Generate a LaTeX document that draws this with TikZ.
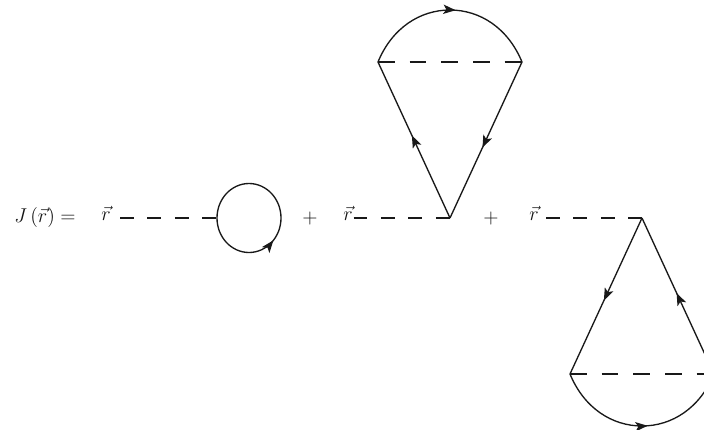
\documentclass[tikz,border=0pt]{standalone}
\usetikzlibrary{arrows.meta,decorations.markings}
\tikzset{
  x=0.6pt,y=-0.6pt,
  fermion/.style={draw=black!90,line width=0.8pt},
  scalarA/.style={draw=black!90,line width=0.8pt,dash pattern=on 8.3pt off 8.15pt},
  scalarB/.style={draw=black!90,line width=0.8pt,dash pattern=on 10pt off 9pt},
  tip/.style={>={Stealth[length=7.4pt,width=5.6pt,inset=1.8pt]},postaction={decorate,decoration={markings,mark=at position #1 with {\arrow{>}}}}},
  lab/.style={inner sep=0pt,text=black!92,font=\fontsize{12}{14}\selectfont}
}
\begin{document}
\begin{tikzpicture}
\useasboundingbox (0,0) rectangle (704,430);
\clip (0,0) rectangle (704,430);
% first term
\node[lab] (eq) at (45,217.5) {$J\left(\vec{r}\right)=$};
\node[lab] (r1) at (106,213.5) {$\vec{r}$};
\coordinate (d1s) at (120,218);
\coordinate (loop) at (217,218);
\draw[scalarA] (d1s) -- (loop);
\draw[fermion,tip=0.385] (loop) arc[start angle=180,end angle=-180,x radius=32,y radius=34.5];
\node[lab] (p1) at (310,218) {$+$};
% second term
\node[lab] (r2) at (348,213.5) {$\vec{r}$};
\coordinate (a2) at (450,218);
\coordinate (l2) at (378,62);
\coordinate (r2e) at (522,62);
\coordinate (t2) at (450,10);
\coordinate (d2s) at (353.5,218);
\draw[scalarA] (d2s) -- (a2);
\draw[fermion,tip=0.53] (a2) -- (l2);
\draw[fermion,tip=0.55] (r2e) -- (a2);
\draw[scalarB] (l2) -- (r2e);
\draw[fermion,tip=0.53] (l2) .. controls (392,28) and (420,10) .. (t2) .. controls (480,10) and (508,28) .. (r2e);
\node[lab] (p2) at (491,218) {$+$};
% third term
\node[lab] (r3) at (534,213.5) {$\vec{r}$};
\coordinate (a3) at (642,218);
\coordinate (l3) at (570,374);
\coordinate (r3e) at (714,374);
\coordinate (b3) at (642,426);
\coordinate (d3s) at (546,218);
\draw[scalarA] (d3s) -- (a3);
\draw[fermion,tip=0.53] (a3) -- (l3);
\draw[fermion,tip=0.52] (r3e) -- (a3);
\draw[scalarB] (l3) -- (r3e);
\draw[fermion,tip=0.53] (l3) .. controls (584,408) and (612,426) .. (b3) .. controls (672,426) and (700,408) .. (r3e);
\end{tikzpicture}
\end{document}
